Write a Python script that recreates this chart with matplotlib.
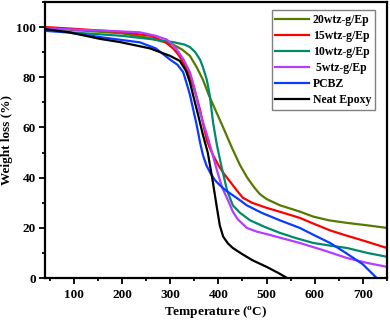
import matplotlib
matplotlib.use("Agg")
import matplotlib.pyplot as plt
from matplotlib.ticker import MultipleLocator

plt.rcParams['font.family'] = ['Liberation Serif', 'DejaVu Serif']
plt.rcParams['font.weight'] = 'bold'
plt.rcParams['mathtext.fontset'] = 'custom'
plt.rcParams['mathtext.rm'] = 'Liberation Serif:bold'
plt.rcParams['mathtext.bf'] = 'Liberation Serif:bold'

# Data
t_epoxy = [40, 90, 154, 196, 258, 300, 320, 333, 341, 350, 358, 368, 378, 388, 397, 403, 410, 420, 430, 450, 472, 500, 525, 543]
w_epoxy = [99.2, 97.9, 95.3, 94, 91.5, 88.5, 86.5, 82.5, 78, 71, 65, 57, 50, 39, 28, 21, 16.5, 13.8, 12, 9.5, 7, 4.5, 2, 0]

t_pcbz = [40, 90, 154, 237, 270, 300, 315, 327, 335, 341, 348, 355, 362, 368, 375, 383, 393, 403, 415, 430, 445, 459, 490, 528, 569, 600, 632, 665, 700, 729]
w_pcbz = [98.5, 97.8, 96, 93.9, 91.5, 87, 85, 82, 77, 73, 67, 61, 54, 49, 45, 42, 39, 37, 35, 33, 31, 29, 26, 23, 20, 17, 14, 10, 5.5, 0]

t_15 = [40, 100, 200, 260, 290, 306, 317, 327, 337, 347, 355, 362, 370, 376, 383, 389, 400, 410, 418, 430, 440, 451, 470, 500, 530, 569, 600, 632, 665, 700, 750]
w_15 = [100, 99.3, 98, 96.5, 94, 91.5, 89, 86, 82, 77, 72, 67, 60, 55, 51.5, 49, 45, 42, 40, 37, 34.5, 32, 30, 28, 26.3, 24, 21.5, 19, 17, 15, 12]

t_5 = [40, 100, 170, 237, 270, 293, 305, 314, 328, 341, 350, 357, 362, 370, 378, 387, 397, 408, 420, 430, 440, 459, 480, 501, 530, 569, 620, 667, 710, 750]
w_5 = [99.5, 99, 98.5, 97.9, 96.5, 95, 93, 91, 87, 82, 76, 70, 66, 61, 56, 50, 43, 36, 31, 26.5, 23.5, 20, 18.5, 17.5, 16, 14, 11, 8, 6, 4.5]

t_10 = [40, 100, 200, 260, 306, 330, 341, 352, 362, 368, 376, 382, 389, 397, 407, 418, 430, 445, 466, 495, 528, 560, 597, 630, 667, 710, 750]
w_10 = [99, 97.8, 96.5, 95.2, 94, 93, 92, 90, 87, 84, 79, 73, 62, 53, 44, 35, 29, 26, 23, 20.5, 18, 16, 14, 13, 12, 10, 8.5]

t_20 = [40, 100, 200, 260, 306, 325, 341, 355, 368, 380, 395, 410, 428, 445, 460, 475, 486, 500, 528, 569, 597, 630, 667, 710, 750]
w_20 = [99.6, 98.8, 97.5, 95.5, 93, 91, 88.5, 84, 79, 73, 66.5, 60, 52, 45, 40, 36, 33.5, 31.5, 29, 26.5, 24.5, 23, 22, 21, 20]

labels = ['20wtz-g/Ep', '15wtz-g/Ep', '10wtz-g/Ep', ' 5wtz-g/Ep', 'PCBZ', 'Neat Epoxy']
colors = ['#557a00', '#ff0000', '#00896a', '#b63cff', '#0a3cff', '#000000']
series = [(t_20, w_20), (t_15, w_15), (t_10, w_10), (t_5, w_5), (t_pcbz, w_pcbz), (t_epoxy, w_epoxy)]

fig = plt.figure(figsize=(3.9, 3.23), dpi=100)
ax = fig.add_axes([0.1154, 0.139, 0.8766, 0.855])

for (t, w), lab, c in zip(series, labels, colors):
    ax.plot(t, w, color=c, lw=1.6, label=lab, solid_joinstyle='round')

ax.set_xlim(40, 750)
ax.set_ylim(0, 110)
ax.xaxis.set_major_locator(MultipleLocator(100))
ax.xaxis.set_minor_locator(MultipleLocator(50))
ax.yaxis.set_major_locator(MultipleLocator(20))
ax.yaxis.set_minor_locator(MultipleLocator(10))
ax.set_yticks([0, 20, 40, 60, 80, 100])
ax.tick_params(which='both', direction='out', width=1.3, labelsize=9.5, top=False, right=False)
ax.tick_params(which='major', length=4, pad=2.5)
ax.tick_params(axis='x', which='major', pad=3.5)
ax.tick_params(which='minor', length=2.5)
for s in ax.spines.values():
    s.set_linewidth(1.6)

ax.set_xlabel(r'Temperature ($^{\mathrm{o}}$C)', fontsize=9.5, fontweight='bold', labelpad=3)
ax.set_ylabel('Weight loss (%)', fontsize=9.5, fontweight='bold', labelpad=2)

leg = ax.legend(loc='upper right', bbox_to_anchor=(0.965, 0.97), fontsize=8.5,
                handlelength=2.9, handletextpad=0.3, labelspacing=0.35,
                borderpad=0.3, borderaxespad=0, fancybox=False, framealpha=1)
leg.get_frame().set_edgecolor('#808080')
leg.get_frame().set_linewidth(1.0)

fig.savefig('out.png', dpi=100)
